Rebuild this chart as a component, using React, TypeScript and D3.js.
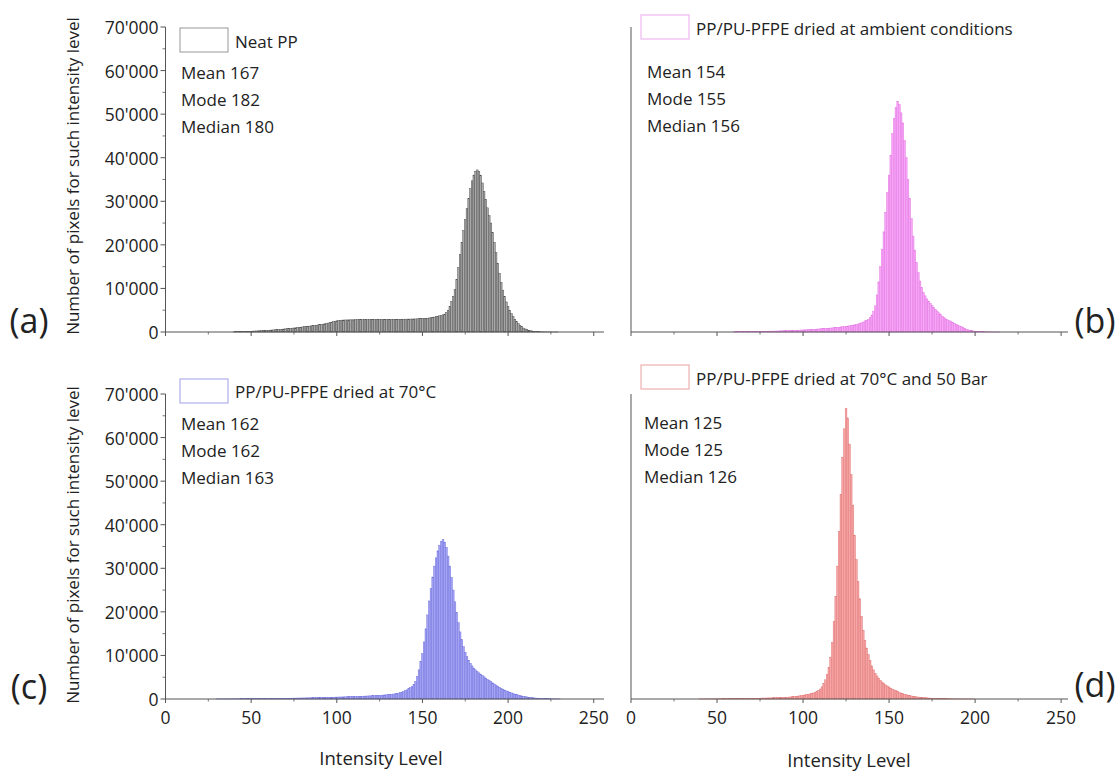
import React from "react";
import * as d3 from "d3";

// ---------- data (pixel counts per intensity level) ----------
const neatStart = 40;
const neatCounts = [
  50, 60, 70, 80, 90, 100, 110, 120, 140, 160,
  180, 200, 220, 240, 260, 280, 300, 320, 340, 360,
  390, 420, 450, 480, 510, 540, 570, 600, 640, 680,
  720, 760, 800, 840, 880, 920, 960, 1000, 1050, 1100,
  1150, 1200, 1250, 1300, 1350, 1400, 1450, 1500, 1560, 1620,
  1680, 1740, 1800, 1880, 1960, 2050, 2150, 2250, 2350, 2450,
  2550, 2620, 2680, 2720, 2750, 2760, 2770, 2780, 2790, 2800,
  2800, 2810, 2820, 2830, 2840, 2840, 2850, 2850, 2860, 2870,
  2870, 2880, 2890, 2890, 2900, 2900, 2900, 2900, 2900, 2900,
  2900, 2900, 2900, 2910, 2910, 2920, 2920, 2930, 2930, 2940,
  2950, 2950, 2960, 2970, 2980, 2990, 3000, 3020, 3040, 3060,
  3080, 3100, 3130, 3170, 3220, 3280, 3350, 3430, 3520, 3620,
  3720, 3830, 3950, 4100, 4500, 5000, 5900, 7000, 8200, 9800,
  12000, 14800, 17800, 20600, 23300, 25800, 28300, 30700, 32900, 34700,
  36000, 36900, 37200, 36900, 36000, 34200, 32300, 30400, 28500, 26700,
  25000, 22800, 20600, 18200, 15800, 13500, 11400, 9600, 8100, 6900,
  5900, 5000, 4200, 3500, 2900, 2400, 1900, 1500, 1200, 900,
  700, 530, 400, 300, 220, 160, 120, 90, 65, 50,
  35, 25, 18, 13, 9, 6, 4, 3, 2, 1,
];

const ambientStart = 60;
const ambientCounts = [
  50, 55, 60, 65, 70, 75, 80, 85, 90, 95,
  100, 105, 110, 118, 126, 134, 142, 150, 160, 170,
  180, 190, 200, 212, 224, 236, 248, 260, 275, 290,
  305, 320, 335, 350, 365, 380, 395, 410, 430, 450,
  470, 490, 510, 530, 555, 580, 605, 630, 660, 690,
  720, 750, 780, 810, 840, 870, 900, 940, 980, 1020,
  1060, 1100, 1150, 1200, 1250, 1300, 1360, 1420, 1490, 1560,
  1640, 1730, 1830, 1950, 2100, 2300, 2550, 2650, 2900, 3300,
  3900, 4700, 6000, 8500, 11500, 15000, 19000, 23000, 27500, 32000,
  36000, 40500, 45500, 49000, 51500, 52900, 52200, 50300, 48000, 44000,
  40000, 35000, 30600, 26000, 22000, 18800, 16000, 13600, 11700, 10200,
  9100, 8300, 7600, 7100, 6600, 6100, 5600, 5200, 4800, 4400,
  4000, 3600, 3300, 3000, 2800, 2600, 2400, 2200, 2000, 1800,
  1600, 1400, 1200, 1000, 800, 650, 500, 400, 300, 240,
  190, 150, 120, 95, 75, 60, 45, 35, 28, 20,
  15, 12, 9, 7, 5,
];

const dried70Start = 30;
const dried70Counts = [
  20, 22, 24, 26, 28, 30, 32, 34, 36, 38,
  40, 43, 46, 49, 52, 55, 58, 61, 64, 67,
  70, 74, 78, 82, 86, 90, 94, 98, 102, 106,
  110, 115, 120, 125, 130, 135, 140, 146, 152, 158,
  164, 170, 177, 184, 191, 198, 205, 213, 221, 229,
  237, 245, 254, 263, 272, 281, 290, 300, 310, 320,
  330, 340, 350, 360, 370, 380, 390, 400, 412, 424,
  436, 448, 460, 472, 484, 496, 508, 520, 535, 550,
  565, 580, 595, 610, 625, 640, 655, 670, 690, 710,
  730, 750, 770, 790, 810, 840, 870, 900, 930, 960,
  1000, 1040, 1080, 1130, 1190, 1260, 1340, 1440, 1560, 1720,
  1920, 2100, 2350, 2600, 2900, 3400, 4000, 5200, 6700, 8600,
  10400, 13100, 16100, 19300, 22500, 25300, 28000, 30500, 32400, 34000,
  35300, 36200, 36600, 36000, 34800, 32800, 30500, 27900, 25000, 22300,
  19800, 17500, 15400, 13600, 12000, 10700, 9700, 8900, 8200, 7600,
  7100, 6700, 6300, 6000, 5700, 5400, 5100, 4800, 4500, 4250,
  4000, 3700, 3450, 3200, 2950, 2700, 2450, 2250, 2050, 1850,
  1700, 1550, 1400, 1250, 1100, 1000, 900, 800, 700, 620,
  540, 470, 400, 350, 300, 260, 220, 190, 160, 135,
  115, 95, 80, 65, 55, 45, 35, 28, 22, 17,
  13,
];

const pressStart = 40;
const pressCounts = [
  15, 17, 19, 21, 23, 25, 28, 31, 34, 37,
  40, 44, 48, 52, 56, 60, 64, 68, 72, 76,
  80, 85, 90, 96, 102, 108, 114, 120, 126, 133,
  140, 150, 160, 170, 180, 190, 200, 210, 220, 230,
  240, 255, 270, 285, 300, 315, 330, 345, 360, 370,
  380, 410, 440, 480, 520, 560, 610, 660, 720, 780,
  850, 920, 1000, 1080, 1170, 1270, 1380, 1520, 1700, 1950,
  2300, 2800, 3500, 4400, 5700, 7200, 9600, 13000, 17800, 23500,
  30500, 38500, 47000, 55500, 62000, 66700, 64500, 58500, 51500, 44500,
  37500, 32000, 27000, 23000, 19000, 15800, 13500, 11700, 10200, 8900,
  7600, 6700, 5900, 5300, 4800, 4300, 3900, 3550, 3250, 3000,
  2750, 2500, 2280, 2080, 1900, 1700, 1500, 1350, 1200, 1080,
  970, 870, 780, 700, 630, 560, 500, 450, 400, 360,
  320, 285, 255, 225, 200, 180, 160, 140, 125, 110,
  95, 85, 75, 65, 55, 48, 42, 36, 30, 25,
  20, 17, 14, 12, 10, 8, 6, 5, 4, 3,
];

const yTickValues = [0, 10000, 20000, 30000, 40000, 50000, 60000, 70000];
const yMinorValues = [5000, 15000, 25000, 35000, 45000, 55000, 65000];
const xTickValues = [0, 50, 100, 150, 200, 250];
const xMinorValues = [25, 75, 125, 175, 225];

const legendLabels = [
  "Neat PP",
  "PP/PU-PFPE dried at ambient conditions",
  "PP/PU-PFPE dried at 70°C",
  "PP/PU-PFPE dried at 70°C and 50 Bar",
];
const statsA = ["Mean 167", "Mode 182", "Median 180"];
const statsB = ["Mean 154", "Mode 155", "Median 156"];
const statsC = ["Mean 162", "Mode 162", "Median 163"];
const statsD = ["Mean 125", "Mode 125", "Median 126"];
const panelLetters = ["(a)", "(b)", "(c)", "(d)"];

const FONT = "'Open Sans', 'DejaVu Sans', sans-serif";
const AXIS = "#555";
const TEXT = "#222";

const fmt = (v: number) => d3.format(",")(v).replace(/,/g, "'");

type PanelProps = {
  start: number;
  counts: number[];
  x0: number;
  x1: number;
  xMax: number;
  yBase: number;
  yTop: number;
  fill: string;
  stroke: string;
  boxStroke: string;
  showYLabels: boolean;
  showXLabels: boolean;
  legend: string;
  legendBox: [number, number];
  legendText: [number, number];
  stats: string[];
  statsPos: [number, number];
  statsGap: number;
};

function Panel(p: PanelProps) {
  const xs = d3.scaleLinear().domain([0, p.xMax]).range([p.x0, p.x1]);
  const ys = d3.scaleLinear().domain([0, 70000]).range([p.yBase, p.yTop]);
  const bw = xs(1) - xs(0);
  return (
    <g>
      {p.counts.map((c, i) => {
        const lvl = p.start + i;
        const y = ys(c);
        return (
          <rect
            key={i}
            x={xs(lvl - 0.5)}
            y={y}
            width={bw}
            height={Math.max(0, p.yBase - y)}
            fill={p.fill}
            stroke={p.stroke}
            strokeWidth={0.45}
          />
        );
      })}
      <line x1={p.x0} x2={p.x0} y1={p.yBase} y2={p.yTop} stroke={AXIS} strokeWidth={1} />
      {p.showYLabels &&
        yTickValues.map((v) => (
          <g key={"yt" + v}>
            <line x1={p.x0 - 5} x2={p.x0} y1={ys(v)} y2={ys(v)} stroke={AXIS} strokeWidth={1} />
            <text
              x={p.x0 - 7}
              y={ys(v)}
              textAnchor="end"
              dominantBaseline="central"
              fontFamily={FONT}
              fontSize={17.5}
              fill={TEXT}
            >
              {fmt(v)}
            </text>
          </g>
        ))}
      {p.showYLabels &&
        yMinorValues.map((v) => (
          <line key={"ym" + v} x1={p.x0 - 3} x2={p.x0} y1={ys(v)} y2={ys(v)} stroke={AXIS} strokeWidth={0.8} />
        ))}
      <line x1={p.x0} x2={p.x1} y1={p.yBase} y2={p.yBase} stroke={AXIS} strokeWidth={1} />
      {xTickValues.map((v) => (
        <g key={"xt" + v}>
          <line x1={xs(v)} x2={xs(v)} y1={p.yBase} y2={p.yBase + 4} stroke={AXIS} strokeWidth={1} />
          {p.showXLabels && (
            <text
              x={xs(v)}
              y={p.yBase + 18}
              textAnchor="middle"
              dominantBaseline="central"
              fontFamily={FONT}
              fontSize={17.5}
              fill={TEXT}
            >
              {v}
            </text>
          )}
        </g>
      ))}
      {xMinorValues.map((v) => (
        <line key={"xm" + v} x1={xs(v)} x2={xs(v)} y1={p.yBase} y2={p.yBase + 2.5} stroke={AXIS} strokeWidth={0.8} />
      ))}
      <rect
        x={p.legendBox[0]}
        y={p.legendBox[1]}
        width={48}
        height={24}
        fill="#fff"
        stroke={p.boxStroke}
        strokeWidth={1.2}
      />
      <text
        x={p.legendText[0]}
        y={p.legendText[1]}
        dominantBaseline="central"
        fontFamily={FONT}
        fontSize={17}
        fill={TEXT}
      >
        {p.legend}
      </text>
      {p.stats.map((s, i) => (
        <text
          key={s}
          x={p.statsPos[0]}
          y={p.statsPos[1] + i * p.statsGap}
          dominantBaseline="central"
          fontFamily={FONT}
          fontSize={17}
          fill={TEXT}
        >
          {s}
        </text>
      ))}
    </g>
  );
}

export default function App() {
  const leftX0 = 165.5;
  const leftX1 = 604;
  const rightX0 = 631;
  const rightX1 = 1068;
  return (
    <svg
      width={1120}
      height={772}
      viewBox="0 0 1120 772"
      style={{ position: "absolute", left: 0, top: 0, background: "#fff" }}
    >
      <rect x={0} y={0} width={1120} height={772} fill="#fff" />
      <Panel
        start={neatStart}
        counts={neatCounts}
        x0={leftX0}
        x1={leftX1}
        xMax={256}
        yBase={332}
        yTop={27}
        fill="#a8a8a8"
        stroke="#4a4a4a"
        boxStroke="#aaaaaa"
        showYLabels={true}
        showXLabels={false}
        legend={legendLabels[0]}
        legendBox={[180, 28]}
        legendText={[235, 41]}
        stats={statsA}
        statsPos={[181, 72]}
        statsGap={27}
      />
      <Panel
        start={ambientStart}
        counts={ambientCounts}
        x0={rightX0}
        x1={rightX1}
        xMax={254}
        yBase={332}
        yTop={27}
        fill="#f7a6f7"
        stroke="#e274e2"
        boxStroke="#eeb8ee"
        showYLabels={false}
        showXLabels={false}
        legend={legendLabels[1]}
        legendBox={[641, 15]}
        legendText={[696, 28]}
        stats={statsB}
        statsPos={[647, 71]}
        statsGap={27}
      />
      <Panel
        start={dried70Start}
        counts={dried70Counts}
        x0={leftX0}
        x1={leftX1}
        xMax={256}
        yBase={699}
        yTop={394}
        fill="#a4a4f4"
        stroke="#6f6fdc"
        boxStroke="#b0b0ee"
        showYLabels={true}
        showXLabels={true}
        legend={legendLabels[2]}
        legendBox={[180, 379]}
        legendText={[235, 391]}
        stats={statsC}
        statsPos={[181, 423]}
        statsGap={27}
      />
      <Panel
        start={pressStart}
        counts={pressCounts}
        x0={rightX0}
        x1={rightX1}
        xMax={254}
        yBase={699}
        yTop={394}
        fill="#f6a6a6"
        stroke="#e07474"
        boxStroke="#f0b0b0"
        showYLabels={false}
        showXLabels={true}
        legend={legendLabels[3]}
        legendBox={[641, 365]}
        legendText={[696, 378]}
        stats={statsD}
        statsPos={[644, 422]}
        statsGap={27}
      />
      {[176, 545].map((cy) => (
        <text
          key={"yl" + cy}
          transform={`translate(72, ${cy}) rotate(-90)`}
          textAnchor="middle"
          dominantBaseline="central"
          fontFamily={FONT}
          fontSize={17}
          fill={TEXT}
        >
          Number of pixels for such intensity level
        </text>
      ))}
      <text x={381} y={757} textAnchor="middle" dominantBaseline="central" fontFamily={FONT} fontSize={18.5} fill={TEXT}>
        Intensity Level
      </text>
      <text x={849} y={759} textAnchor="middle" dominantBaseline="central" fontFamily={FONT} fontSize={18.5} fill={TEXT}>
        Intensity Level
      </text>
      {[
        [29, 320],
        [1095, 320],
        [29, 686],
        [1095, 684],
      ].map(([x, y], i) => (
        <text
          key={"pl" + i}
          x={x}
          y={y}
          textAnchor="middle"
          dominantBaseline="central"
          fontFamily={FONT}
          fontSize={34}
          fill={TEXT}
        >
          {panelLetters[i]}
        </text>
      ))}
    </svg>
  );
}
